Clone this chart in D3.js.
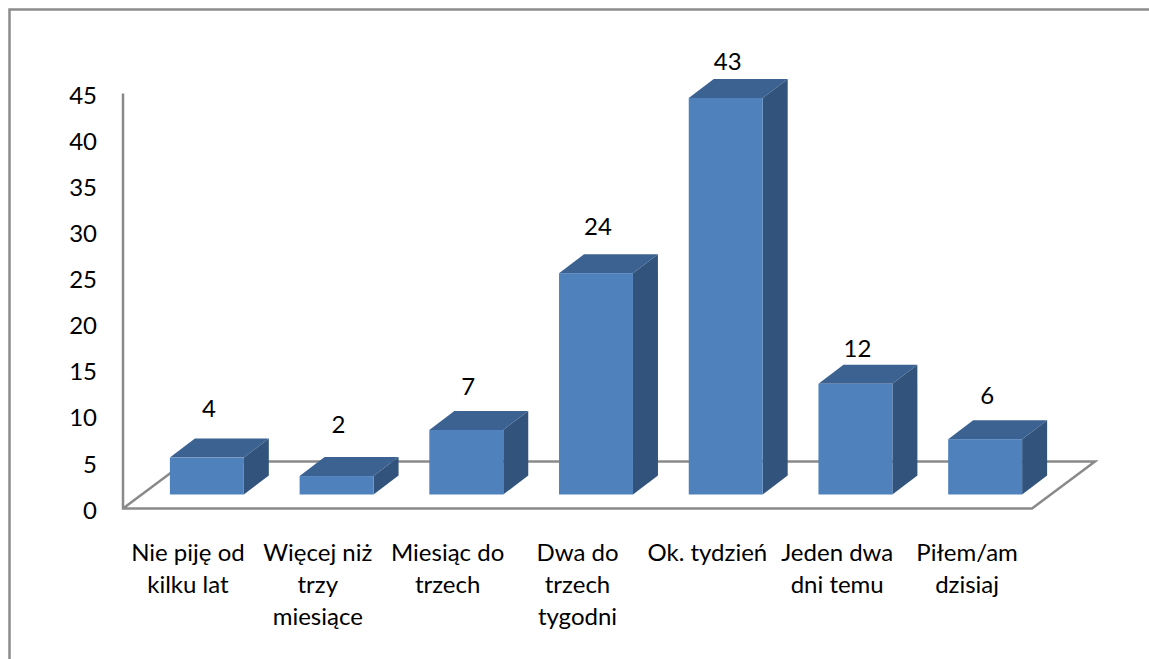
<!DOCTYPE html>
<html>
<head>
<meta charset="utf-8">
<script src="https://cdn.jsdelivr.net/npm/d3@7"></script>
<style>
  html, body { margin: 0; padding: 0; background: #fff; }
  svg { display: block; }
  text { font-family: Lato, "Open Sans", sans-serif; fill: #000; }
  .axis path, .axis line { display: none; }
  .axis text { font-size: 24px; font-family: Lato, "Open Sans", sans-serif; }
</style>
</head>
<body>
<div class="chart"></div>
<script>
const categories = [
    ["Nie piję od", "kilku lat"],
    ["Więcej niż", "trzy", "miesiące"],
    ["Miesiąc do", "trzech"],
    ["Dwa do", "trzech", "tygodni"],
    ["Ok. tydzień"],
    ["Jeden dwa", "dni temu"],
    ["Piłem/am", "dzisiaj"]
];
const values = [4, 2, 7, 24, 43, 12, 6];
const yTicks = [0, 5, 10, 15, 20, 25, 30, 35, 40, 45];

const width = 1149, height = 659;
const svg = d3.select(".chart").append("svg")
    .attr("width", width)
    .attr("height", height);

const names = categories.map(d => d.join(" "));

// scales: labels sit on the front floor edge, bars are pushed back into the floor
const xLabel = d3.scaleBand().domain(names).range([123, 1032]);
const xBar = d3.scaleBand().domain(names).range([142, 1050]).paddingInner(0.43).paddingOuter(0.215);
const yScale = d3.scaleLinear().domain([0, 45]).range([508.5, 93.5]);

// 3d offsets
const depthX = 25, depthY = 19;
const barLift = 14;
const floorX = 63, floorY = 47;
// the data labels are placed by hand in the original
const labelGap = [49, 51, 43, 46, 36, 35, 43];

const grey = "#8a8a8a";

// outer frame, open at the bottom and right
svg.append("path")
    .attr("d", `M9.5,659V9.5H${width}`)
    .attr("fill", "none")
    .attr("stroke", "#8c8c8c")
    .attr("stroke-width", 2.5);

// floor and wall line
const x0 = xLabel.range()[0], x1 = xLabel.range()[1];
const y0 = yScale(0);
svg.append("path")
    .attr("d", `M${x0},${yScale(45)}V${y0}H${x1}L${x1 + floorX},${y0 - floorY}H${x0 + floorX}L${x0},${y0}`)
    .attr("fill", "none")
    .attr("stroke", grey)
    .attr("stroke-width", 2.5);

// bars
const bars = svg.selectAll(".bar").data(values).enter().append("g").attr("class", "bar");
const front = (d, i) => ({
    l: xBar(names[i]),
    r: xBar(names[i]) + xBar.bandwidth(),
    t: yScale(d) - barLift,
    b: yScale(0) - barLift
});
bars.append("path")
    .attr("fill", "#3c6291")
    .attr("d", (d, i) => {
        const f = front(d, i);
        return `M${f.l},${f.t}L${f.l + depthX},${f.t - depthY}H${f.r + depthX}L${f.r},${f.t}Z`;
    });
bars.append("path")
    .attr("fill", "#32547c")
    .attr("d", (d, i) => {
        const f = front(d, i);
        return `M${f.r},${f.t}L${f.r + depthX},${f.t - depthY}V${f.b - depthY}L${f.r},${f.b}Z`;
    });
bars.append("rect")
    .attr("fill", "#4f81bd")
    .attr("x", (d, i) => front(d, i).l)
    .attr("y", (d, i) => front(d, i).t)
    .attr("width", xBar.bandwidth())
    .attr("height", (d, i) => front(d, i).b - front(d, i).t);

// data labels
svg.selectAll(".value").data(values).enter().append("text")
    .attr("class", "value")
    .attr("x", (d, i) => xBar(names[i]) + xBar.bandwidth() / 2 + 2)
    .attr("y", (d, i) => front(d, i).t - labelGap[i] + 8)
    .attr("text-anchor", "middle")
    .style("font-size", "24px")
    .text(d => d);

// y axis labels
svg.append("g")
    .attr("class", "axis y-axis")
    .attr("transform", "translate(105,2)")
    .call(d3.axisLeft(yScale).tickValues(yTicks).tickSize(0).tickPadding(8));

// category labels
const cat = svg.selectAll(".cat").data(categories).enter().append("text")
    .attr("class", "cat")
    .attr("text-anchor", "middle")
    .style("font-size", "24px");
cat.selectAll("tspan").data((d, i) => d.map(line => ({ line, i }))).enter().append("tspan")
    .attr("x", d => xLabel(names[d.i]) + xLabel.bandwidth() / 2)
    .attr("y", (d, j) => 561 + j * 32)
    .text(d => d.line);
</script>
</body>
</html>
